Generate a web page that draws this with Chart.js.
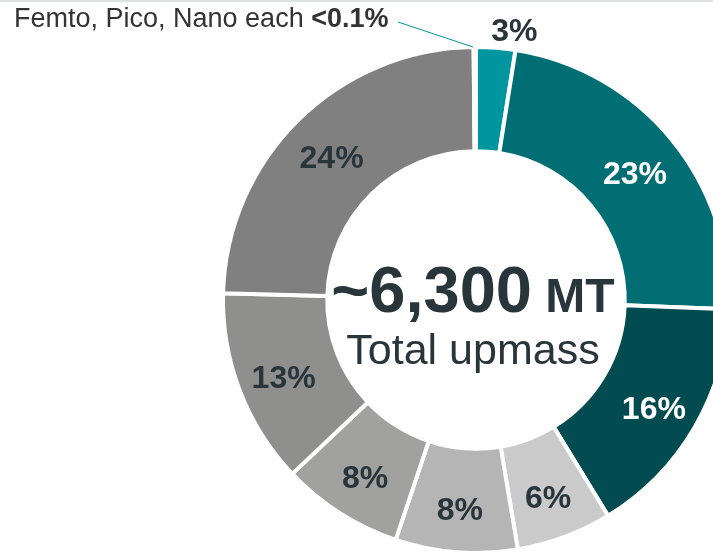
<!DOCTYPE html>
<html lang="en">
<head>
  <meta charset="UTF-8" />
  <title>Total upmass by class</title>
  <script src="https://cdn.jsdelivr.net/npm/chart.js"></script>
  <style>
    html, body { margin: 0; padding: 0; background: #fff; width: 713px; height: 560px; overflow: hidden; }
    #wrap { position: absolute; left: 0; top: 0; width: 952px; height: 600px; }
  </style>
</head>
<body>
  <div id="wrap"><canvas id="chart"></canvas></div>

  <script>
    // slices clockwise from 12 o'clock
    const classes = ["Class A", "Class B", "Class C", "Class D", "Class E", "Class F", "Class G", "Class H", "Femto", "Pico", "Nano"];
    const shares = [2.5, 23.1, 15.7, 6.1, 7.8, 7.8, 12.5, 24.45, 0.05, 0.05, 0.05];
    const shareLabels = ["3%", "23%", "16%", "6%", "8%", "8%", "13%", "24%", "", "", ""];
    const sliceColors = ["#0096a0", "#006e73", "#024b50", "#c9cac9", "#b4b5b4", "#a1a2a0", "#8f908e", "#808080", "#0096a0", "#0096a0", "#0096a0"];
    const labelColors = ["#28353b", "#ffffff", "#ffffff", "#28353b", "#28353b", "#28353b", "#28353b", "#28353b", "", "", ""];

    const totalText = "~6,300";
    const totalUnit = " MT";
    const totalCaption = "Total upmass";
    const noteText = "Femto, Pico, Nano each ";
    const noteBold = "<0.1%";

    const FONT = '"Liberation Sans", Arial, sans-serif';
    const DARK = "#28353b";

    const labelsPlugin = {
      id: "labels",
      afterDatasetsDraw(chart) {
        const ctx = chart.ctx;
        const arcs = chart.getDatasetMeta(0).data;
        ctx.save();
        ctx.textAlign = "center";
        ctx.textBaseline = "middle";
        ctx.font = "bold 32px " + FONT;
        arcs.forEach((arc, i) => {
          if (!shareLabels[i]) return;
          const p = arc.getProps(["x", "y", "startAngle", "endAngle", "innerRadius", "outerRadius"], true);
          let a, r, dy;
          if (i === 0) {
            // small slice: label sits outside the ring
            a = p.startAngle + 0.9 * (p.endAngle - p.startAngle);
            r = p.outerRadius + 20;
            dy = 2;
          } else {
            a = (p.startAngle + p.endAngle) / 2;
            r = 206;
            dy = 6;
          }
          ctx.fillStyle = labelColors[i];
          ctx.fillText(shareLabels[i], p.x + r * Math.cos(a), p.y + r * Math.sin(a) + dy);
        });

        // centre text
        const cx = arcs[0].x - 3;
        ctx.textBaseline = "alphabetic";
        ctx.fillStyle = DARK;
        ctx.font = "bold 65px " + FONT;
        const w1 = ctx.measureText(totalText).width;
        ctx.font = "bold 48px " + FONT;
        const w2 = ctx.measureText(totalUnit).width;
        const x0 = cx - (w1 + w2) / 2;
        ctx.textAlign = "left";
        ctx.font = "bold 65px " + FONT;
        ctx.fillText(totalText, x0, 312);
        ctx.font = "bold 48px " + FONT;
        ctx.fillText(totalUnit, x0 + w1, 312);
        ctx.textAlign = "center";
        ctx.font = "43px " + FONT;
        ctx.fillText(totalCaption, cx, 364);

        // note for the tiny classes
        ctx.textAlign = "left";
        ctx.fillStyle = "#333333";
        ctx.font = "27px " + FONT;
        ctx.fillText(noteText, 14, 27);
        const nw = ctx.measureText(noteText).width;
        ctx.font = "bold 27px " + FONT;
        ctx.fillText(noteBold, 14 + nw, 27);

        ctx.strokeStyle = "#0096a0";
        ctx.lineWidth = 1;
        ctx.beginPath();
        ctx.moveTo(398, 22);
        ctx.lineTo(473, 47);
        ctx.stroke();

        // thin rule at the very top
        ctx.strokeStyle = "#dde2e2";
        ctx.lineWidth = 2;
        ctx.beginPath();
        ctx.moveTo(0, 1);
        ctx.lineTo(chart.width, 1);
        ctx.stroke();
        ctx.restore();
      }
    };

    new Chart(document.getElementById("chart"), {
      type: "doughnut",
      data: {
        labels: classes,
        datasets: [{
          data: shares,
          backgroundColor: sliceColors,
          borderColor: "#ffffff",
          borderWidth: 4
        }]
      },
      options: {
        responsive: true,
        maintainAspectRatio: false,
        animation: false,
        cutout: "58.8%",
        layout: { padding: { top: 45, bottom: 45, left: 0, right: 0 } },
        plugins: {
          legend: { display: false },
          tooltip: { enabled: false }
        }
      },
      plugins: [labelsPlugin]
    });
  </script>
</body>
</html>
